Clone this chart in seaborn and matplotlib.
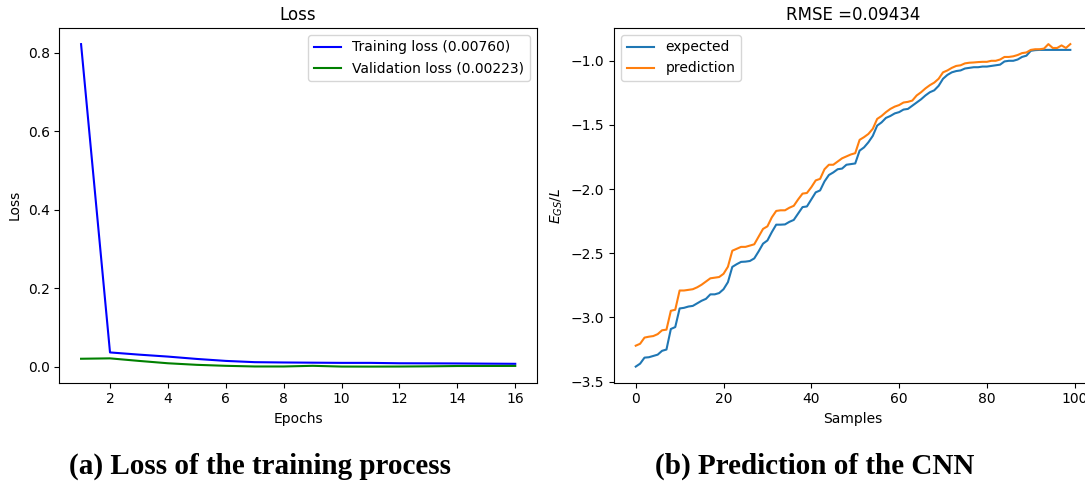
import numpy as np
import pandas as pd
import matplotlib
matplotlib.use("Agg")
import matplotlib.pyplot as plt
import seaborn as sns

# left panel: loss per epoch
epochs = list(range(1, 17))
train_loss = [0.822, 0.0366, 0.031, 0.026, 0.020, 0.015, 0.0118, 0.011,
              0.0105, 0.010, 0.010, 0.009, 0.0088, 0.0085, 0.008, 0.0076]
val_loss = [0.0205, 0.0215, 0.015, 0.009, 0.005, 0.0025, 0.0008, 0.0008,
            0.0025, 0.0006, 0.0005, 0.0007, 0.0012, 0.002, 0.0021, 0.00223]

# right panel: expected vs predicted energy
samples = list(range(100))
expected = [-3.383, -3.36, -3.313, -3.31, -3.30, -3.29, -3.26, -3.25, -3.09, -3.075,
            -2.93, -2.925, -2.915, -2.91, -2.89, -2.87, -2.855, -2.82, -2.82, -2.81,
            -2.78, -2.725, -2.606, -2.585, -2.567, -2.565, -2.56, -2.54, -2.485, -2.425,
            -2.40, -2.335, -2.277, -2.277, -2.275, -2.255, -2.24, -2.19, -2.14, -2.135,
            -2.08, -2.025, -2.01, -1.94, -1.89, -1.87, -1.845, -1.84, -1.81, -1.805,
            -1.80, -1.70, -1.675, -1.635, -1.585, -1.505, -1.48, -1.445, -1.43, -1.41,
            -1.40, -1.38, -1.375, -1.35, -1.325, -1.30, -1.27, -1.245, -1.23, -1.195,
            -1.14, -1.11, -1.09, -1.08, -1.075, -1.06, -1.055, -1.05, -1.05, -1.045,
            -1.045, -1.04, -1.035, -1.03, -1.005, -1.0, -1.0, -0.99, -0.97, -0.96,
            -0.922, -0.917, -0.915, -0.915, -0.915, -0.915, -0.915, -0.915, -0.915, -0.915]
prediction = [-3.22, -3.205, -3.157, -3.15, -3.145, -3.13, -3.10, -3.095, -2.948, -2.94,
              -2.79, -2.79, -2.785, -2.78, -2.765, -2.745, -2.72, -2.695, -2.69, -2.685,
              -2.66, -2.605, -2.48, -2.465, -2.45, -2.45, -2.44, -2.43, -2.37, -2.31,
              -2.29, -2.22, -2.17, -2.165, -2.165, -2.145, -2.13, -2.08, -2.035, -2.03,
              -1.985, -1.932, -1.92, -1.845, -1.81, -1.81, -1.785, -1.76, -1.745, -1.73,
              -1.72, -1.616, -1.595, -1.57, -1.53, -1.453, -1.43, -1.40, -1.375, -1.357,
              -1.345, -1.325, -1.32, -1.31, -1.27, -1.245, -1.215, -1.19, -1.17, -1.14,
              -1.09, -1.075, -1.055, -1.04, -1.035, -1.02, -1.015, -1.013, -1.01, -1.008,
              -1.008, -1.0, -1.0, -0.99, -0.97, -0.97, -0.965, -0.955, -0.94, -0.935,
              -0.915, -0.91, -0.91, -0.905, -0.87, -0.90, -0.90, -0.88, -0.90, -0.87]

fig = plt.figure(figsize=(10.85, 4.86), dpi=100)
ax1 = fig.add_axes([0.0547, 0.2125, 0.4402, 0.7299])
# the right panel runs slightly past the figure edge, as in the original crop
ax2 = fig.add_axes([0.5659, 0.2125, 0.4406, 0.7299])

sns.lineplot(x=epochs, y=train_loss, ax=ax1, color="blue", label="Training loss (0.00760)")
sns.lineplot(x=epochs, y=val_loss, ax=ax1, color="green", label="Validation loss (0.00223)")
ax1.set_title("Loss", fontsize=12)
ax1.set_xlabel("Epochs")
ax1.set_ylabel("Loss")
ax1.set_xticks(range(2, 17, 2))
ax1.legend(loc="upper right")

sns.lineplot(x=samples, y=expected, ax=ax2, color="tab:blue", label="expected")
sns.lineplot(x=samples, y=prediction, ax=ax2, color="tab:orange", label="prediction")
ax2.set_title("RMSE =0.09434", fontsize=12)
ax2.set_xlabel("Samples")
ax2.set_ylabel("$E_{GS}/L$")
ax2.legend(loc="upper left")

fig.text(0.24, 0.041, "(a) Loss of the training process", ha="center", va="center",
         fontsize=21, fontweight="bold", family="Liberation Serif")
fig.text(0.751, 0.041, "(b) Prediction of the CNN", ha="center", va="center",
         fontsize=21, fontweight="bold", family="Liberation Serif")

fig.savefig("out.png", dpi=100)
